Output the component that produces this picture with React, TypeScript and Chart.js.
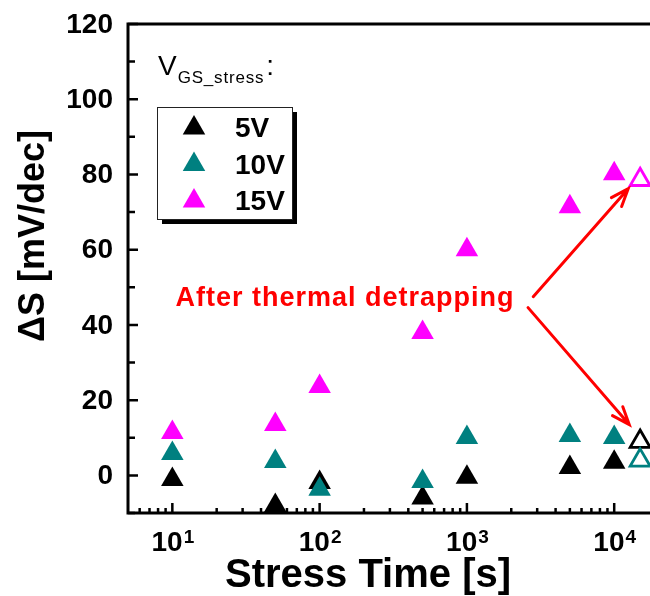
import React, { useEffect, useRef } from 'react';
import { Chart, registerables } from 'chart.js';

Chart.register(...registerables);

// Subthreshold-swing shift versus stress time for three gate stress voltages
const stressTimes = [10, 50, 100, 500, 1000, 5000, 10000];
const shift5V = [-1.1, -8, -1.9, -6, -0.5, 2.1, 3.5];
const shift10V = [5.8, 3.7, -3.7, -1.6, 10.1, 10.6, 10.1];
const shift15V = [11.4, 13.5, 23.6, 38, 60, 71.4, 80.2];

// Values measured after thermal detrapping (open symbols)
const detrapTime = 15000;
const detrap5V = 9;
const detrap10V = 4;
const detrap15V = 78.6;

const seriesLabels = ['5V', '10V', '15V'];
const seriesColors = ['#000000', '#008080', '#FF00FF'];

const yMajorTicks = [0, 20, 40, 60, 80, 100, 120];
const yMinorTicks = [-10, 10, 30, 50, 70, 90, 110];
const xDecadeExponents = [1, 2, 3, 4];

const annotationText = 'After thermal detrapping';
// annotation anchor and arrows in data units: [time, ΔS]
const annotationAnchor = [10.5, 44.9];
const arrowUp = [[2820, 47.5], [12450, 76.2]];
const arrowDown = [[2600, 44.6], [12650, 13.5]];

const FONT = '"Liberation Sans", Arial, sans-serif';

function drawTriangle(ctx: CanvasRenderingContext2D, cx: number, cy: number, r: number) {
  ctx.beginPath();
  let rad = 0;
  for (let i = 0; i < 3; i++) {
    const px = cx + Math.sin(rad) * r;
    const py = cy - Math.cos(rad) * r;
    if (i === 0) ctx.moveTo(px, py);
    else ctx.lineTo(px, py);
    rad += (2 * Math.PI) / 3;
  }
  ctx.closePath();
}

function drawArrow(ctx: CanvasRenderingContext2D, x0: number, y0: number, x1: number, y1: number) {
  ctx.beginPath();
  ctx.moveTo(x0, y0);
  ctx.lineTo(x1, y1);
  const back = Math.atan2(y0 - y1, x0 - x1);
  const len = 19;
  const spread = (21 * Math.PI) / 180;
  ctx.moveTo(x1 + Math.cos(back - spread) * len, y1 + Math.sin(back - spread) * len);
  ctx.lineTo(x1, y1);
  ctx.lineTo(x1 + Math.cos(back + spread) * len, y1 + Math.sin(back + spread) * len);
  ctx.stroke();
}

const framePlugin = {
  id: 'frameAndLabels',
  beforeDatasetsDraw(chart: any) {
    const { ctx, chartArea: a, scales } = chart;
    const xs = scales.x;
    const ys = scales.y;
    ctx.save();
    ctx.strokeStyle = '#000';
    ctx.fillStyle = '#000';

    // frame
    ctx.lineWidth = 3;
    ctx.beginPath();
    ctx.moveTo(a.left - 1.5, a.top);
    ctx.lineTo(a.right, a.top);
    ctx.moveTo(a.left, a.top);
    ctx.lineTo(a.left, a.bottom + 1.5);
    ctx.moveTo(a.left - 1.5, a.bottom);
    ctx.lineTo(a.right, a.bottom);
    ctx.stroke();

    // y ticks (inward)
    ctx.lineWidth = 2.5;
    ctx.beginPath();
    yMajorTicks.forEach((v) => {
      const py = ys.getPixelForValue(v);
      ctx.moveTo(a.left, py);
      ctx.lineTo(a.left + 10, py);
    });
    yMinorTicks.forEach((v) => {
      const py = ys.getPixelForValue(v);
      ctx.moveTo(a.left, py);
      ctx.lineTo(a.left + 7, py);
    });
    ctx.stroke();

    // x ticks (inward), log decades with minor ticks
    ctx.beginPath();
    for (let e = 0; e <= 4; e++) {
      for (let m = 1; m <= 9; m++) {
        const v = m * Math.pow(10, e);
        if (v <= xs.min || v > xs.max) continue;
        const px = xs.getPixelForValue(v);
        ctx.moveTo(px, a.bottom);
        ctx.lineTo(px, a.bottom - (m === 1 ? 10 : 5));
      }
    }
    ctx.stroke();

    // y tick labels
    ctx.font = `bold 28px ${FONT}`;
    ctx.textAlign = 'right';
    ctx.textBaseline = 'middle';
    yMajorTicks.forEach((v) => {
      ctx.fillText(String(v), a.left - 15, ys.getPixelForValue(v) + 1);
    });

    // x tick labels 10^n
    ctx.textBaseline = 'alphabetic';
    ctx.textAlign = 'left';
    xDecadeExponents.forEach((n) => {
      const px = xs.getPixelForValue(Math.pow(10, n));
      ctx.font = `bold 28px ${FONT}`;
      const wBase = ctx.measureText('10').width;
      ctx.font = `bold 19px ${FONT}`;
      const wExp = ctx.measureText(String(n)).width;
      const start = px - (wBase + wExp) / 2;
      ctx.font = `bold 28px ${FONT}`;
      ctx.fillText('10', start, a.bottom + 38);
      ctx.font = `bold 19px ${FONT}`;
      ctx.fillText(String(n), start + wBase + 1, a.bottom + 30);
    });

    // axis titles
    ctx.font = `bold 40px ${FONT}`;
    ctx.textAlign = 'center';
    ctx.fillText('Stress Time [s]', a.left + 240, a.bottom + 74);

    ctx.save();
    ctx.translate(44, 236);
    ctx.rotate(-Math.PI / 2);
    ctx.font = `bold 36px ${FONT}`;
    ctx.textAlign = 'center';
    ctx.fillText('ΔS [mV/dec]', 0, 0);
    ctx.restore();

    ctx.restore();
  },
  afterDatasetsDraw(chart: any) {
    const { ctx, chartArea: a, scales } = chart;
    const xs = scales.x;
    const ys = scales.y;
    ctx.save();

    // annotation and arrows
    ctx.fillStyle = '#FF0000';
    ctx.strokeStyle = '#FF0000';
    ctx.font = `bold 27px ${FONT}`;
    (ctx as any).letterSpacing = '1px';
    ctx.textAlign = 'left';
    ctx.textBaseline = 'alphabetic';
    ctx.fillText(
      annotationText,
      xs.getPixelForValue(annotationAnchor[0]),
      ys.getPixelForValue(annotationAnchor[1])
    );
    (ctx as any).letterSpacing = '0px';
    ctx.lineWidth = 3;
    ctx.lineCap = 'round';
    [arrowUp, arrowDown].forEach(([p0, p1]) => {
      drawArrow(
        ctx,
        xs.getPixelForValue(p0[0]),
        ys.getPixelForValue(p0[1]),
        xs.getPixelForValue(p1[0]),
        ys.getPixelForValue(p1[1])
      );
    });

    // legend with title and drop shadow
    const bx = a.left + 29;
    const by = a.top + 83;
    const bw = 135;
    const bh = 112;
    ctx.fillStyle = '#000';
    ctx.fillRect(bx + 5, by + 5, bw, bh);
    ctx.fillStyle = '#fff';
    ctx.fillRect(bx, by, bw, bh);
    ctx.strokeStyle = '#222';
    ctx.lineWidth = 1;
    ctx.strokeRect(bx + 0.5, by + 0.5, bw, bh);

    seriesLabels.forEach((label, i) => {
      const cy = by + 21 + i * 36.5;
      ctx.fillStyle = seriesColors[i];
      drawTriangle(ctx, bx + 37, cy, 13);
      ctx.fill();
      ctx.fillStyle = '#000';
      ctx.font = `bold 28px ${FONT}`;
      ctx.fillText(label, bx + 78, cy + 9);
    });

    // legend title V_GS_stress:
    ctx.fillStyle = '#000';
    const tx = bx + 1;
    const ty = a.top + 51;
    ctx.font = `28px ${FONT}`;
    ctx.fillText('V', tx, ty);
    const wV = ctx.measureText('V').width;
    ctx.font = `17px ${FONT}`;
    (ctx as any).letterSpacing = '0.8px';
    ctx.fillText('GS_stress', tx + wV + 1, ty + 8);
    const wSub = ctx.measureText('GS_stress').width;
    (ctx as any).letterSpacing = '0px';
    ctx.font = `28px ${FONT}`;
    ctx.fillText(':', tx + wV + wSub + 3, ty);

    ctx.restore();
  },
};

export default function App() {
  const canvasRef = useRef<HTMLCanvasElement | null>(null);

  useEffect(() => {
    const canvas = canvasRef.current;
    if (!canvas) return;
    const toPoints = (vals: number[]) => stressTimes.map((t, i) => ({ x: t, y: vals[i] }));
    const filled = [shift5V, shift10V, shift15V];
    const detrap = [detrap5V, detrap10V, detrap15V];

    const datasets: any[] = filled.map((vals, i) => ({
      label: seriesLabels[i],
      data: toPoints(vals),
      pointStyle: 'triangle',
      pointRadius: 13,
      borderWidth: 0,
      backgroundColor: seriesColors[i],
      borderColor: seriesColors[i],
      showLine: false,
      clip: false,
      order: 3 - i,
    }));
    detrap.forEach((v, i) => {
      datasets.push({
        label: seriesLabels[i] + ' detrapped',
        data: [{ x: detrapTime, y: v }],
        pointStyle: 'triangle',
        pointRadius: 11.5,
        borderWidth: 2.8,
        backgroundColor: 'rgba(255,255,255,0)',
        borderColor: seriesColors[i],
        showLine: false,
        clip: false,
        order: 3 - i,
      });
    });

    const chart = new Chart(canvas, {
      type: 'scatter',
      data: { datasets },
      options: {
        animation: false,
        responsive: false,
        events: [],
        layout: { autoPadding: false, padding: { left: 128, top: 24, right: 0, bottom: 83 } },
        plugins: { legend: { display: false }, tooltip: { enabled: false } },
        scales: {
          x: { type: 'logarithmic', min: 5, max: 17500, display: false },
          y: { type: 'linear', min: -10, max: 120, display: false },
        },
      },
      plugins: [framePlugin],
    });
    return () => chart.destroy();
  }, []);

  return (
    <div style={{ position: 'absolute', left: 0, top: 0, width: 650, height: 596, overflow: 'hidden', background: '#fff' }}>
      <canvas ref={canvasRef} width={650} height={596} style={{ width: 650, height: 596, display: 'block' }} />
    </div>
  );
}
